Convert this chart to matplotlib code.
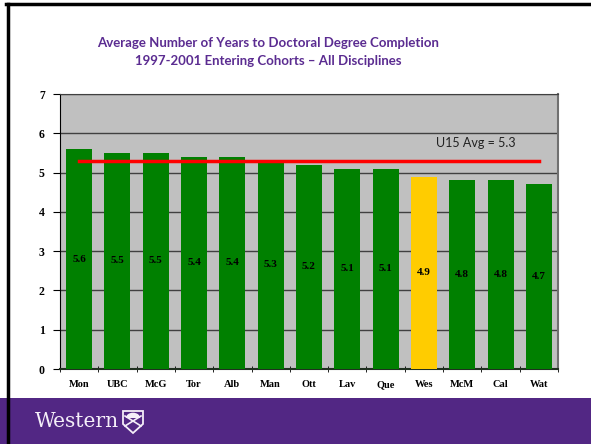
import matplotlib.pyplot as plt
import matplotlib.patches as mpatches
import numpy as np

# data
schools = ["Mon", "UBC", "McG", "Tor", "Alb", "Man", "Ott", "Lav", "Que", "Wes", "McM", "Cal", "Wat"]
years = [5.6, 5.5, 5.5, 5.4, 5.4, 5.3, 5.2, 5.1, 5.1, 4.9, 4.8, 4.8, 4.7]
u15_avg = 5.3
highlight = "Wes"

fig = plt.figure(figsize=(5.91, 4.44), dpi=100)

# slide frame and purple footer
fig.add_artist(mpatches.Rectangle((0, 0), 1, 46 / 444, transform=fig.transFigure,
                                  facecolor="#522784", edgecolor="none", zorder=1))
fig.add_artist(plt.Line2D([7.5 / 591, 7.5 / 591], [0, 1 - 4 / 444], transform=fig.transFigure,
                          color="black", lw=2.5, zorder=5))
fig.add_artist(plt.Line2D([6 / 591, 1], [1 - 4 / 444, 1 - 4 / 444], transform=fig.transFigure,
                          color="black", lw=2.5, zorder=5))
fig.text(35 / 591, 1 - 421 / 444, "Western", color="#F4EEF8", fontsize=14.5,
         family="DejaVu Serif", va="center", ha="left", zorder=6)

# small shield next to the wordmark
def fx(px):
    return px / 591

def fy(py):
    return 1 - py / 444

shield_pts = [(fx(123), fy(411)), (fx(143), fy(411)), (fx(143), fy(424)),
              (fx(133), fy(433)), (fx(123), fy(424))]
fig.add_artist(mpatches.Polygon(shield_pts, closed=True, transform=fig.transFigure,
                                facecolor="none", edgecolor="#F4EEF8", lw=1.3, zorder=6))
fig.add_artist(mpatches.Wedge((fx(133), fy(418)), 0.012, 0, 180, transform=fig.transFigure,
                              facecolor="#F4EEF8", edgecolor="none", zorder=6))
fig.add_artist(plt.Line2D([fx(125), fx(141)], [fy(426), fy(416)], transform=fig.transFigure,
                          color="#F4EEF8", lw=1.2, zorder=6))
fig.add_artist(plt.Line2D([fx(125), fx(141)], [fy(416), fy(426)], transform=fig.transFigure,
                          color="#F4EEF8", lw=1.2, zorder=6))

title_color = "#5B2C91"
fig.text(268 / 591, fy(43), "Average Number of Years to Doctoral Degree Completion",
         color=title_color, fontsize=9.5, fontweight="bold", family="Lato",
         ha="center", va="center")
fig.text(268 / 591, fy(61), "1997-2001 Entering Cohorts \u2013 All Disciplines",
         color=title_color, fontsize=9.5, fontweight="bold", family="Lato",
         ha="center", va="center")

ax = fig.add_axes([60 / 591, 1 - 369 / 444, 498 / 591, 275 / 444])
ax.set_facecolor("#C0C0C0")
x = np.arange(len(schools))
colors = ["#FFCC00" if s == highlight else "#008000" for s in schools]
ax.bar(x, years, width=0.68, color=colors, zorder=3)
for xi, v in zip(x, years):
    ax.text(xi, v / 2, f"{v}", ha="center", va="center", fontsize=8,
            fontweight="bold", family="Liberation Serif", zorder=4)

ax.plot([x[0], x[-1]], [u15_avg, u15_avg], color="#FF0000", lw=2.5, zorder=5)
ax.text(10.35, 5.75, f"U15 Avg = {u15_avg}", ha="center", va="center", fontsize=9,
        family="Lato", color="#222222", zorder=5)

ax.set_xlim(-0.5, len(schools) - 0.5)
ax.set_ylim(0, 7)
ax.set_yticks(range(0, 8))
ax.yaxis.grid(True, color="#404040", lw=1, zorder=1)
ax.set_xticks(x)
ax.set_xticklabels(schools, fontsize=7.5, fontweight="bold", family="Liberation Serif")
ax.set_xticks(np.arange(-0.5, len(schools)), minor=True)
ax.tick_params(axis="x", which="major", length=0, pad=8)
ax.tick_params(axis="x", which="minor", length=4, direction="inout")
for lab in ax.get_yticklabels():
    lab.set_fontweight("bold")
    lab.set_family("Liberation Serif")
    lab.set_fontsize(8.5)
ax.tick_params(axis="y", length=5, pad=6)
ax.spines["top"].set_color("#404040")
ax.spines["right"].set_color("#707070")
ax.spines["right"].set_linewidth(1.5)
ax.spines["bottom"].set_color("#203020")
ax.spines["bottom"].set_linewidth(1.5)

fig.savefig("out.png", dpi=100)
